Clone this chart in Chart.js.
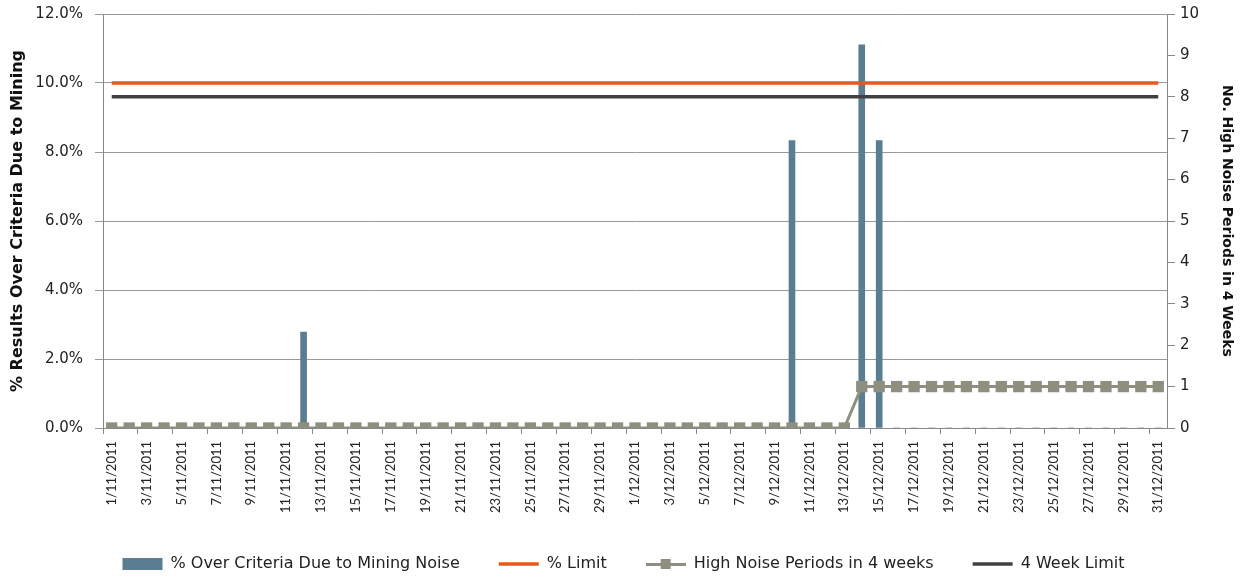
<!DOCTYPE html>
<html>
<head>
<meta charset="utf-8">
<script src="https://cdn.jsdelivr.net/npm/chart.js"></script>
<style>
  html, body { margin: 0; padding: 0; background: #fff; }
  #wrap { width: 1247px; height: 582px; position: relative; }
</style>
</head>
<body>
<div id="wrap"><canvas id="myChart"></canvas></div>
<script>
// dias de 1/11/2011 a 31/12/2011
var dias = [];
for (var d = 1; d <= 30; d++) dias.push(d + '/11/2011');
for (var d = 1; d <= 31; d++) dias.push(d + '/12/2011');

// % acima do critério
var pct_over = [
  0,0,0,0,0,0,0,0,0,0,0,2.78,0,0,0,0,0,0,0,0,0,0,0,0,0,0,0,0,0,0,
  0,0,0,0,0,0,0,0,0,8.33,0,0,0,11.11,8.33,0,0,0,0,0,0,0,0,0,0,0,0,0,0,0,0
];
var pct_limite = [];
for (var i = 0; i < dias.length; i++) pct_limite.push(10);

var periodos = [
  0,0,0,0,0,0,0,0,0,0,0,0,0,0,0,0,0,0,0,0,0,0,0,0,0,0,0,0,0,0,
  0,0,0,0,0,0,0,0,0,0,0,0,0,1,1,1,1,1,1,1,1,1,1,1,1,1,1,1,1,1,1
];
var limite_4sem = [];
for (var i = 0; i < dias.length; i++) limite_4sem.push(8);

var fonte_x = "Lato, sans-serif";
var fonte = "'DejaVu Sans', sans-serif";
var cinza = '#8F8F80';

// ícone da legenda: linha com quadrado
var icone = document.createElement('canvas');
icone.width = 40; icone.height = 12;
var ic = icone.getContext('2d');
ic.fillStyle = cinza;
ic.fillRect(0, 5, 40, 3);
ic.fillRect(15, 1, 10, 10);

var ctx = document.getElementById("myChart").getContext('2d');

var grafico = new Chart(ctx, {
  type: 'bar',
  data: {
    labels: dias,
    datasets: [{
      type: 'bar',
      label: '% Over Criteria Due to Mining Noise',
      data: pct_over,
      backgroundColor: '#5B7D92',
      borderWidth: 0,
      barThickness: 6,
      yAxisID: 'y',
      order: 4,
      pointStyle: 'rect'
    }, {
      type: 'line',
      label: '% Limit',
      data: pct_limite,
      borderColor: '#E8581A',
      backgroundColor: '#E8581A',
      borderWidth: 3.5,
      pointRadius: 0,
      yAxisID: 'y',
      order: 1,
      pointStyle: 'line'
    }, {
      type: 'line',
      label: 'High Noise Periods in 4 weeks',
      data: periodos,
      borderColor: cinza,
      backgroundColor: cinza,
      borderWidth: 3,
      pointStyle: 'rect',
      pointRadius: 8,
      pointBackgroundColor: cinza,
      pointBorderColor: cinza,
      pointBorderWidth: 0,
      yAxisID: 'y1',
      order: 2
    }, {
      type: 'line',
      label: '4 Week Limit',
      data: limite_4sem,
      borderColor: '#404040',
      backgroundColor: '#404040',
      borderWidth: 3.5,
      pointRadius: 0,
      yAxisID: 'y1',
      order: 3,
      pointStyle: 'line'
    }]
  },
  options: {
    responsive: true,
    maintainAspectRatio: false,
    animation: false,
    layout: { padding: { top: 0, right: 4, left: 4, bottom: 0 } },
    plugins: {
      legend: {
        position: 'bottom',
        labels: {
          color: '#222',
          font: { family: fonte, size: 16 },
          usePointStyle: true,
          pointStyleWidth: 40,
          boxHeight: 12,
          padding: 39,
          sort: function (a, b) { return a.datasetIndex - b.datasetIndex; },
          generateLabels: function (chart) {
            var itens = Chart.defaults.plugins.legend.labels.generateLabels(chart);
            itens.forEach(function (it) {
              if (it.datasetIndex === 2) it.pointStyle = icone;
            });
            return itens;
          }
        }
      },
      tooltip: { enabled: false }
    },
    scales: {
      x: {
        offset: true,
        grid: {
          drawOnChartArea: false,
          tickLength: 6,
          color: function (c) { return c.index % 2 === 0 ? '#888' : 'rgba(0,0,0,0)'; }
        },
        border: { color: '#888' },
        afterFit: function (s) { s.height = 89; },
        ticks: {
          autoSkip: false,
          maxRotation: 90,
          minRotation: 90,
          padding: 7,
          color: '#222',
          font: { family: fonte_x, size: 13 },
          callback: function (v, idx) { return idx % 2 === 0 ? dias[idx] : ''; }
        }
      },
      y: {
        position: 'left',
        min: 0,
        max: 12,
        afterFit: function (s) { s.width = 99; s.paddingTop = 14; },
        ticks: {
          stepSize: 2,
          padding: 12,
          color: '#222',
          font: { family: fonte, size: 15 },
          callback: function (v) { return v.toFixed(1) + '%'; }
        },
        grid: { color: '#999', tickLength: 8 },
        border: { color: '#888' },
        title: {
          display: true,
          text: '% Results Over Criteria Due to Mining',
          color: '#111',
          padding: { top: 4, bottom: 4 },
          font: { family: fonte, size: 16, weight: 'bold' }
        }
      },
      y1: {
        position: 'right',
        min: 0,
        max: 10,
        afterFit: function (s) { s.width = 76; s.paddingTop = 14; },
        ticks: {
          stepSize: 1,
          padding: 5,
          color: '#222',
          font: { family: fonte, size: 15 }
        },
        grid: { drawOnChartArea: false, color: '#888', tickLength: 8 },
        border: { color: '#888' },
        title: {
          display: true,
          text: 'No. High Noise Periods in 4 Weeks',
          color: '#111',
          padding: { top: 8, bottom: 14 },
          font: { family: fonte, size: 14, weight: 'bold' }
        }
      }
    }
  }
});
</script>
</body>
</html>
